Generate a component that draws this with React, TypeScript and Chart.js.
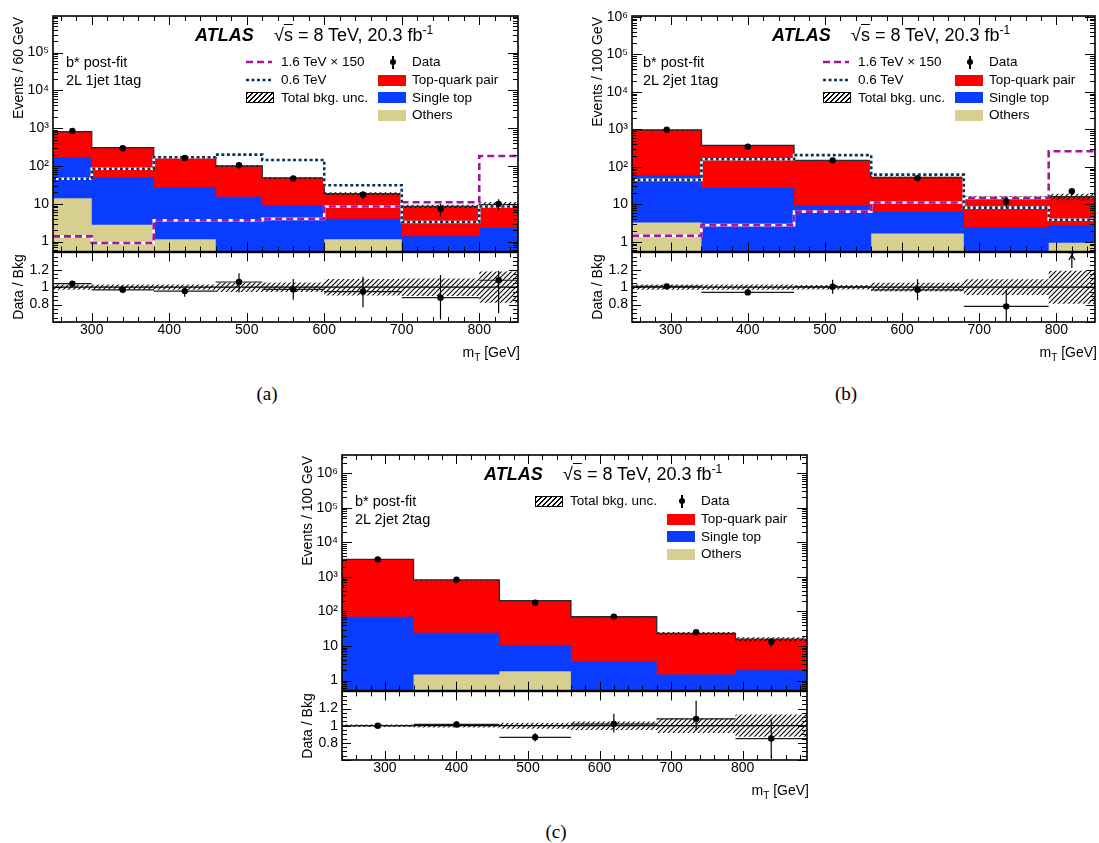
import React, { useEffect, useRef } from 'react';
import { Chart, registerables } from 'chart.js';

Chart.register(...registerables);

const SANS = '"Liberation Sans", Arial, Helvetica, sans-serif';
const SERIF = '"Liberation Serif", "DejaVu Serif", serif';

const RED = '#ff0000';
const BLUE = '#0a3cff';
const KHAKI = '#d6cf8f';
const MAGENTA = '#a3159f';
const NAVY = '#0c3262';
const CLEAR = 'rgba(0,0,0,0)';

// ---------- tick labels ----------
const massTickValues = [300, 400, 500, 600, 700, 800];
const logTickValues = [1, 10, 100, 1000, 10000, 100000, 1000000];
const logTickLabels = ['1', '10', '10²', '10³', '10⁴', '10⁵', '10⁶'];
const ratioTickValues = [0.8, 1, 1.2];
const ratioTickLabels = ['0.8', '1', '1.2'];

// ---------- panel (a): 2L 1jet 1tag ----------
const edgesA = [250, 300, 380, 460, 520, 600, 700, 800, 850];
const ttbarA = [637, 254, 142, 85, 39, 14.5, 7.2, 7.2];
const singleTopA = [159, 48.2, 26.5, 15, 9.0, 2.85, 1.08, 2.0];
const othersA = [14, 2.8, 1.15, 0.3, 0.3, 1.15, 0.3, 0.3];
const dataA = [845, 295, 163, 105, 47, 17.5, 7.3, 10];
const dataErrA = [29, 17, 13, 10, 7, 4.2, 2.7, 3.2];
const sig16A = [1.38, 0.92, 3.65, 3.65, 4.0, 8.5, 11, 185];
const sig06A = [46, 85, 170, 200, 145, 31, 3.3, 8.5];
const uncA = [0.03, 0.03, 0.03, 0.055, 0.055, 0.095, 0.1, 0.18];
const ratioA = [1.04, 0.97, 0.955, 1.06, 0.975, 0.95, 0.88, 1.08];
const ratioUpA = [0.025, 0.035, 0.035, 0.1, 0.12, 0.17, 0.26, 0.11];
const ratioDnA = [0.025, 0.035, 0.065, 0.12, 0.12, 0.18, 0.25, 0.38];

// ---------- panel (b): 2L 2jet 1tag ----------
const edgesB = [250, 340, 460, 560, 680, 790, 850];
const ttbarB = [900, 343, 139, 45.6, 12.8, 13.2];
const singleTopB = [56.7, 27, 9.0, 4.7, 2.2, 1.86];
const othersB = [3.3, 0.3, 0.3, 1.67, 0.3, 0.94];
const dataB = [970, 345, 149, 50, 11.7, 22.5];
const dataErrB = [31, 19, 12, 7, 3.4, 4.7];
const sig16B = [1.45, 2.8, 6.4, 11.2, 14.8, 260];
const sig06B = [45, 160, 205, 62, 8.2, 3.9];
const uncB = [0.03, 0.03, 0.025, 0.05, 0.09, 0.19];
const ratioB = [1.01, 0.94, 1.005, 0.97, 0.78, 1.42];
const ratioUpB = [0.02, 0.03, 0.08, 0.12, 0.19, 0];
const ratioDnB = [0.02, 0.03, 0.08, 0.12, 0.2, 0];

// ---------- panel (c): 2L 2jet 2tag ----------
const edgesC = [240, 340, 460, 560, 680, 790, 890];
const ttbarC = [3170, 796, 194.5, 66.8, 21.8, 13.8];
const singleTopC = [70, 22.5, 8.64, 3.24, 1.19, 1.67];
const othersC = [0.3, 1.49, 1.86, 0.3, 0.3, 0.3];
const dataC = [3230, 830, 180, 71, 25, 13];
const dataErrC = [57, 29, 13, 8.4, 5, 3.6];
const uncC = [0.015, 0.02, 0.035, 0.05, 0.085, 0.13];
const ratioC = [1.0, 1.015, 0.865, 1.02, 1.08, 0.85];
const ratioUpC = [0.02, 0.035, 0.05, 0.12, 0.21, 0.23];
const ratioDnC = [0.02, 0.035, 0.05, 0.1, 0.13, 0.23];

// ---------- geometry (page pixels) ----------
const geoA = { L: 53, R: 520, T: 16, S: 252, B: 322, xMin: 250, xMax: 850, yMin: 0.545, yMax: 9.3e5 };
const geoB = { L: 632, R: 1097, T: 16, S: 252, B: 322, xMin: 250, xMax: 850, yMin: 0.55, yMax: 1.05e6 };
const geoC = { L: 342, R: 809, T: 455, S: 691, B: 760, xMin: 240, xMax: 890, yMin: 0.51, yMax: 3.4e6 };

const YW = 50;
const PADR = 2;
const PADT = 12;
const PADB = 12;
const XH = 24;

type Pt = { x: number; y: number | null };
const steps = (edges: number[], vals: number[]): Pt[] =>
  vals.flatMap((v, i) => [{ x: edges[i], y: v }, { x: edges[i + 1], y: v }]);
const centers = (edges: number[]) => edges.slice(0, -1).map((e, i) => (e + edges[i + 1]) / 2);
const vbars = (xs: number[], lo: number[], hi: number[]): Pt[] =>
  xs.flatMap((x, i) => [{ x, y: lo[i] }, { x, y: hi[i] }, { x, y: null }]);
const hbars = (edges: number[], ys: number[]): Pt[] =>
  ys.flatMap((y, i) => [{ x: edges[i], y }, { x: edges[i + 1], y }, { x: edges[i + 1], y: null }]);

function makeHatch(ctx: CanvasRenderingContext2D) {
  const s = 5;
  const c = document.createElement('canvas');
  c.width = s;
  c.height = s;
  const g = c.getContext('2d')!;
  g.strokeStyle = '#000';
  g.lineWidth = 1.1;
  g.beginPath();
  g.moveTo(0, s);
  g.lineTo(s, 0);
  g.moveTo(-1, 1);
  g.lineTo(1, -1);
  g.moveTo(s - 1, s + 1);
  g.lineTo(s + 1, s - 1);
  g.stroke();
  return ctx.createPattern(c, 'repeat')!;
}

function frameTicks(o: { xMaj: number; xMin: number; yMaj: number; yMin: number }) {
  return {
    id: 'frameTicks',
    afterDatasetsDraw(chart: any) {
      const { ctx, chartArea: a, scales } = chart;
      const xs = scales.x;
      const ys = scales.y;
      ctx.save();
      ctx.strokeStyle = '#000';
      ctx.lineWidth = 1;
      ctx.beginPath();
      for (let k = Math.ceil(xs.min / 20); k * 20 <= xs.max; k++) {
        const v = k * 20;
        const px = Math.round(xs.getPixelForValue(v)) + 0.5;
        const len = v % 100 === 0 ? o.xMaj : o.xMin;
        ctx.moveTo(px, a.bottom);
        ctx.lineTo(px, a.bottom - len);
        ctx.moveTo(px, a.top);
        ctx.lineTo(px, a.top + len);
      }
      const yt: [number, boolean][] = [];
      if (ys.type === 'logarithmic') {
        for (let d = Math.floor(Math.log10(ys.min)); d <= Math.ceil(Math.log10(ys.max)); d++) {
          for (let m = 1; m <= 9; m++) {
            const v = m * Math.pow(10, d);
            if (v >= ys.min && v <= ys.max) yt.push([v, m === 1]);
          }
        }
      } else {
        for (let k = Math.ceil(ys.min / 0.05 - 1e-6); k * 0.05 <= ys.max + 1e-6; k++) {
          const v = k * 0.05;
          yt.push([v, k % 4 === 0]);
        }
      }
      yt.forEach(([v, major]) => {
        const py = Math.round(ys.getPixelForValue(v)) + 0.5;
        const len = major ? o.yMaj : o.yMin;
        ctx.moveTo(a.left, py);
        ctx.lineTo(a.left + len, py);
        ctx.moveTo(a.right, py);
        ctx.lineTo(a.right - len, py);
      });
      ctx.stroke();
      ctx.lineWidth = 1.6;
      ctx.strokeRect(a.left, a.top, a.right - a.left, a.bottom - a.top);
      ctx.restore();
    },
  };
}

function arrows(edges: number[], ratio: number[]) {
  return {
    id: 'arrows',
    afterDatasetsDraw(chart: any) {
      const { ctx, scales } = chart;
      const xs = scales.x;
      const ys = scales.y;
      ctx.save();
      ctx.strokeStyle = '#000';
      ctx.lineWidth = 1.2;
      ratio.forEach((r, i) => {
        if (r <= ys.max) return;
        const x = xs.getPixelForValue((edges[i] + edges[i + 1]) / 2);
        const y0 = ys.getPixelForValue(1.22);
        const y1 = ys.getPixelForValue(1.37);
        ctx.beginPath();
        ctx.moveTo(x, y0);
        ctx.lineTo(x, y1);
        ctx.moveTo(x - 3, y1 + 5);
        ctx.lineTo(x, y1);
        ctx.lineTo(x + 3, y1 + 5);
        ctx.stroke();
      });
      ctx.restore();
    },
  };
}

type Sig = { label: string; vals: number[]; color: string; dash: number[] };
type PanelData = {
  edges: number[]; ttbar: number[]; single: number[]; others: number[];
  data: number[]; dataErr: number[]; unc: number[];
  ratio: number[]; ratioUp: number[]; ratioDn: number[]; signals: Sig[];
};
type Geo = typeof geoA;

const baseOptions = (padTop: number, padBottom: number) => ({
  animation: false,
  responsive: false,
  devicePixelRatio: 1,
  events: [],
  layout: { padding: { left: 0, right: PADR, top: padTop, bottom: padBottom } },
  plugins: { legend: { display: false }, tooltip: { enabled: false } },
  elements: { point: { radius: 0 }, line: { tension: 0, borderJoinStyle: 'miter', borderCapStyle: 'butt' } },
});

const NOGRID = { display: false, drawTicks: false, tickLength: 0 };

function mainConfig(p: PanelData, g: Geo, hatch: CanvasPattern): any {
  const total = p.ttbar.map((t, i) => t + p.single[i] + p.others[i]);
  const lower = p.single.map((s, i) => s + p.others[i]);
  const xc = centers(p.edges);
  const datasets: any[] = [
    { label: 'Top-quark pair', data: steps(p.edges, total), fill: 'start', backgroundColor: RED, borderColor: CLEAR, borderWidth: 0, order: 30 },
    { label: 'Single top', data: steps(p.edges, lower), fill: 'start', backgroundColor: BLUE, borderColor: CLEAR, borderWidth: 0, order: 29 },
    { label: 'Others', data: steps(p.edges, p.others), fill: 'start', backgroundColor: KHAKI, borderColor: CLEAR, borderWidth: 0, order: 28 },
    { label: 'Total bkg. unc.', data: steps(p.edges, total.map((t, i) => t * (1 + p.unc[i]))), fill: '+1', backgroundColor: hatch, borderColor: CLEAR, borderWidth: 0, order: 27 },
    { label: 'unc low', data: steps(p.edges, total.map((t, i) => t * (1 - p.unc[i]))), fill: false, borderColor: CLEAR, borderWidth: 0, order: 27 },
    { label: 'Total', data: steps(p.edges, total), fill: false, borderColor: '#2a2a2a', borderWidth: 1.3, order: 26 },
    ...p.signals.flatMap((s, k) => [
      { label: s.label + ' bg', data: steps(p.edges, s.vals), fill: false, borderColor: '#ffffff', borderWidth: 2.6, order: 20 - 2 * k },
      { label: s.label, data: steps(p.edges, s.vals), fill: false, borderColor: s.color, borderWidth: 2.6, borderDash: s.dash, order: 19 - 2 * k },
    ]),
    { label: 'Data err', data: vbars(xc, p.data.map((d, i) => d - p.dataErr[i]), p.data.map((d, i) => d + p.dataErr[i])), fill: false, borderColor: '#000', borderWidth: 1.2, spanGaps: false, order: 2 },
    { label: 'Data', data: xc.map((x, i) => ({ x, y: p.data[i] })), showLine: false, pointRadius: 3.2, pointBackgroundColor: '#000', pointBorderColor: '#000', pointBorderWidth: 0, order: 1 },
  ];
  return {
    type: 'line',
    data: { datasets },
    options: {
      ...baseOptions(16, PADB),
      scales: {
        x: { type: 'linear', min: g.xMin, max: g.xMax, grid: NOGRID, border: { display: false }, ticks: { display: false }, afterFit: (s: any) => { s.height = 0; } },
        y: {
          type: 'logarithmic', min: g.yMin, max: g.yMax,
          grid: NOGRID, border: { display: false },
          afterBuildTicks: (s: any) => { s.ticks = logTickValues.filter((v) => v >= s.min && v <= s.max * 1.001).map((value) => ({ value })); },
          ticks: { autoSkip: false, padding: 4, color: '#000', font: { family: SANS, size: 14 }, callback: (v: any) => logTickLabels[logTickValues.indexOf(Number(v))] ?? '' },
          afterFit: (s: any) => { s.width = YW; },
        },
      },
    },
    plugins: [frameTicks({ xMaj: 9, xMin: 5, yMaj: 10, yMin: 5 })],
  };
}

function ratioConfig(p: PanelData, g: Geo, hatch: CanvasPattern): any {
  const xc = centers(p.edges);
  const datasets: any[] = [
    { label: 'unc up', data: steps(p.edges, p.unc.map((u) => 1 + u)), fill: '+1', backgroundColor: hatch, borderColor: CLEAR, borderWidth: 0, order: 10 },
    { label: 'unc low', data: steps(p.edges, p.unc.map((u) => 1 - u)), fill: false, borderColor: CLEAR, borderWidth: 0, order: 10 },
    { label: 'unity', data: [{ x: g.xMin, y: 1 }, { x: g.xMax, y: 1 }], fill: false, borderColor: '#000', borderWidth: 1.2, order: 5 },
    { label: 'bin width', data: hbars(p.edges, p.ratio), fill: false, borderColor: '#1a1a1a', borderWidth: 1.2, spanGaps: false, order: 3 },
    { label: 'ratio err', data: vbars(xc, p.ratio.map((r, i) => r - p.ratioDn[i]), p.ratio.map((r, i) => r + p.ratioUp[i])), fill: false, borderColor: '#000', borderWidth: 1.2, spanGaps: false, order: 2 },
    { label: 'Data / Bkg', data: xc.map((x, i) => ({ x, y: p.ratio[i] })), showLine: false, pointRadius: 3.2, pointBackgroundColor: '#000', pointBorderWidth: 0, order: 1 },
  ];
  return {
    type: 'line',
    data: { datasets },
    options: {
      ...baseOptions(PADT, 4),
      scales: {
        x: {
          type: 'linear', min: g.xMin, max: g.xMax, grid: NOGRID, border: { display: false },
          afterBuildTicks: (s: any) => { s.ticks = massTickValues.map((value) => ({ value })); },
          ticks: { autoSkip: false, maxRotation: 0, padding: 0, color: '#000', font: { family: SANS, size: 14 }, callback: (v: any) => String(v) },
          afterFit: (s: any) => { s.height = XH; },
        },
        y: {
          type: 'linear', min: 0.6, max: 1.4, grid: NOGRID, border: { display: false },
          afterBuildTicks: (s: any) => { s.ticks = ratioTickValues.map((value) => ({ value })); },
          ticks: {
            autoSkip: false, padding: 4, color: '#000', font: { family: SANS, size: 14 },
            callback: (v: any) => ratioTickLabels[ratioTickValues.findIndex((t) => Math.abs(t - Number(v)) < 1e-6)] ?? '',
          },
          afterFit: (s: any) => { s.width = YW; },
        },
      },
    },
    plugins: [arrows(p.edges, p.ratio), frameTicks({ xMaj: 9, xMin: 5, yMaj: 9, yMin: 5 })],
  };
}

function ChartCanvas({ left, top, width, height, make }: { left: number; top: number; width: number; height: number; make: (ctx: CanvasRenderingContext2D) => any }) {
  const ref = useRef<HTMLCanvasElement>(null);
  useEffect(() => {
    const cv = ref.current!;
    const ctx = cv.getContext('2d')!;
    const chart = new Chart(ctx, make(ctx));
    return () => chart.destroy();
  }, []);
  return <canvas ref={ref} width={width} height={height} style={{ position: 'absolute', left, top, width, height }} />;
}

function Txt({ x, y, size = 14, children, align = 'left', style = {} }: any) {
  const tx = align === 'right' ? '-100%' : align === 'center' ? '-50%' : '0';
  return (
    <div style={{ position: 'absolute', left: x, top: y, transform: `translate(${tx}, -50%)`, fontFamily: SANS, fontSize: size, lineHeight: 1, whiteSpace: 'nowrap', color: '#000', ...style }}>
      {children}
    </div>
  );
}

const Box = ({ x, y, bg, border }: any) => (
  <div style={{ position: 'absolute', left: x, top: y - 5.5, width: 28, height: 11, background: bg, border, boxSizing: 'border-box' }} />
);
const LineSw = ({ x, y, color, dash }: any) => (
  <svg style={{ position: 'absolute', left: x, top: y - 3 }} width={26} height={6}>
    <line x1={0} y1={3} x2={26} y2={3} stroke={color} strokeWidth={2.6} strokeDasharray={dash} />
  </svg>
);
const DataMark = ({ x, y }: any) => (
  <>
    <div style={{ position: 'absolute', left: x - 0.6, top: y - 6.5, width: 1.2, height: 13, background: '#000' }} />
    <div style={{ position: 'absolute', left: x - 3.2, top: y - 3.2, width: 6.4, height: 6.4, borderRadius: 3.2, background: '#000' }} />
  </>
);
const HATCH_CSS = 'repeating-linear-gradient(135deg, #000 0px, #000 1.1px, #fff 1.1px, #fff 3.5px)';

function Panel({ g, p, channel, yTitle, caption, shift = 0, withSignals }: { g: Geo; p: PanelData; channel: string; yTitle: string; caption: string; shift?: number; withSignals: boolean }) {
  const W = YW + (g.R - g.L) + PADR;
  const mainH = 16 + (g.S - g.T) + PADB;
  const ratioH = PADT + (g.B - g.S) + XH + 4;
  const x0 = g.L + shift;
  const y0 = g.T;
  const rows = [46, 64, 81.5, 99];
  const c1s = x0 + 193;
  const c1t = x0 + 228;
  const c2s = x0 + 325;
  const c2m = x0 + 340;
  const c2t = x0 + 359;
  const LEG = 13.5;
  return (
    <>
      <ChartCanvas left={g.L - YW} top={g.T - 16} width={W} height={mainH} make={(ctx) => mainConfig(p, g, makeHatch(ctx))} />
      <ChartCanvas left={g.L - YW} top={g.S - PADT} width={W} height={ratioH} make={(ctx) => ratioConfig(p, g, makeHatch(ctx))} />

      <Txt x={x0 + 142} y={y0 + 19} size={18} style={{ fontWeight: 'bold', fontStyle: 'italic' }}>ATLAS</Txt>
      <Txt x={x0 + 221} y={y0 + 19} size={18}>
        √<span style={{ textDecoration: 'overline' }}>s</span> = 8 TeV, 20.3 fb<span style={{ fontSize: 12, position: 'relative', top: -7 }}>-1</span>
      </Txt>
      <Txt x={x0 + 13} y={y0 + rows[0]} size={14.5}>{withSignals ? 'b* post-fit' : 'b*  post-fit'}</Txt>
      <Txt x={x0 + 13} y={y0 + rows[1]} size={14.5}>{channel}</Txt>

      {withSignals ? (
        <>
          <LineSw x={c1s} y={y0 + rows[0]} color={MAGENTA} dash="7 4" />
          <Txt x={c1t} y={y0 + rows[0]} size={LEG}>1.6 TeV × 150</Txt>
          <LineSw x={c1s} y={y0 + rows[1]} color={NAVY} dash="3 2.5" />
          <Txt x={c1t} y={y0 + rows[1]} size={LEG}>0.6 TeV</Txt>
          <Box x={c1s} y={y0 + rows[2]} bg={HATCH_CSS} border="1px solid #000" />
          <Txt x={c1t} y={y0 + rows[2]} size={LEG}>Total bkg. unc.</Txt>
        </>
      ) : (
        <>
          <Box x={c1s} y={y0 + rows[0]} bg={HATCH_CSS} border="1px solid #000" />
          <Txt x={c1t} y={y0 + rows[0]} size={LEG}>Total bkg. unc.</Txt>
        </>
      )}
      <DataMark x={c2m} y={y0 + rows[0]} />
      <Txt x={c2t} y={y0 + rows[0]} size={LEG}>Data</Txt>
      <Box x={c2s} y={y0 + rows[1]} bg={RED} />
      <Txt x={c2t} y={y0 + rows[1]} size={LEG}>Top-quark pair</Txt>
      <Box x={c2s} y={y0 + rows[2]} bg={BLUE} />
      <Txt x={c2t} y={y0 + rows[2]} size={LEG}>Single top</Txt>
      <Box x={c2s} y={y0 + rows[3]} bg={KHAKI} />
      <Txt x={c2t} y={y0 + rows[3]} size={LEG}>Others</Txt>

      <div style={{ position: 'absolute', left: g.L - 35, top: g.T + 1, transformOrigin: '0 0', transform: 'rotate(-90deg) translate(-100%, -50%)', fontFamily: SANS, fontSize: 14, lineHeight: 1, whiteSpace: 'nowrap' }}>{yTitle}</div>
      <div style={{ position: 'absolute', left: g.L - 35, top: (g.S + g.B) / 2, transformOrigin: '0 0', transform: 'rotate(-90deg) translate(-50%, -50%)', fontFamily: SANS, fontSize: 14, lineHeight: 1, whiteSpace: 'nowrap' }}>Data / Bkg</div>
      <Txt x={g.R} y={g.B + 30} size={14} align="right">
        m<span style={{ fontSize: 10, position: 'relative', top: 4 }}>T</span> [GeV]
      </Txt>
      <Txt x={g.L + 214} y={g.B + 71} size={19} align="center" style={{ fontFamily: SERIF }}>{caption}</Txt>
    </>
  );
}

const panelA: PanelData = {
  edges: edgesA, ttbar: ttbarA, single: singleTopA, others: othersA, data: dataA, dataErr: dataErrA, unc: uncA,
  ratio: ratioA, ratioUp: ratioUpA, ratioDn: ratioDnA,
  signals: [
    { label: '1.6 TeV × 150', vals: sig16A, color: MAGENTA, dash: [7, 4] },
    { label: '0.6 TeV', vals: sig06A, color: NAVY, dash: [3, 2.5] },
  ],
};
const panelB: PanelData = {
  edges: edgesB, ttbar: ttbarB, single: singleTopB, others: othersB, data: dataB, dataErr: dataErrB, unc: uncB,
  ratio: ratioB, ratioUp: ratioUpB, ratioDn: ratioDnB,
  signals: [
    { label: '1.6 TeV × 150', vals: sig16B, color: MAGENTA, dash: [7, 4] },
    { label: '0.6 TeV', vals: sig06B, color: NAVY, dash: [3, 2.5] },
  ],
};
const panelC: PanelData = {
  edges: edgesC, ttbar: ttbarC, single: singleTopC, others: othersC, data: dataC, dataErr: dataErrC, unc: uncC,
  ratio: ratioC, ratioUp: ratioUpC, ratioDn: ratioDnC, signals: [],
};

export default function App() {
  return (
    <div style={{ position: 'absolute', left: 0, top: 0, width: 1099, height: 843, overflow: 'hidden', background: '#fff' }}>
      <Panel g={geoA} p={panelA} channel="2L 1jet 1tag" yTitle="Events / 60 GeV" caption="(a)" withSignals />
      <Panel g={geoB} p={panelB} channel="2L 2jet 1tag" yTitle="Events / 100 GeV" caption="(b)" shift={-2} withSignals />
      <Panel g={geoC} p={panelC} channel="2L 2jet 2tag" yTitle="Events / 100 GeV" caption="(c)" withSignals={false} />
    </div>
  );
}
